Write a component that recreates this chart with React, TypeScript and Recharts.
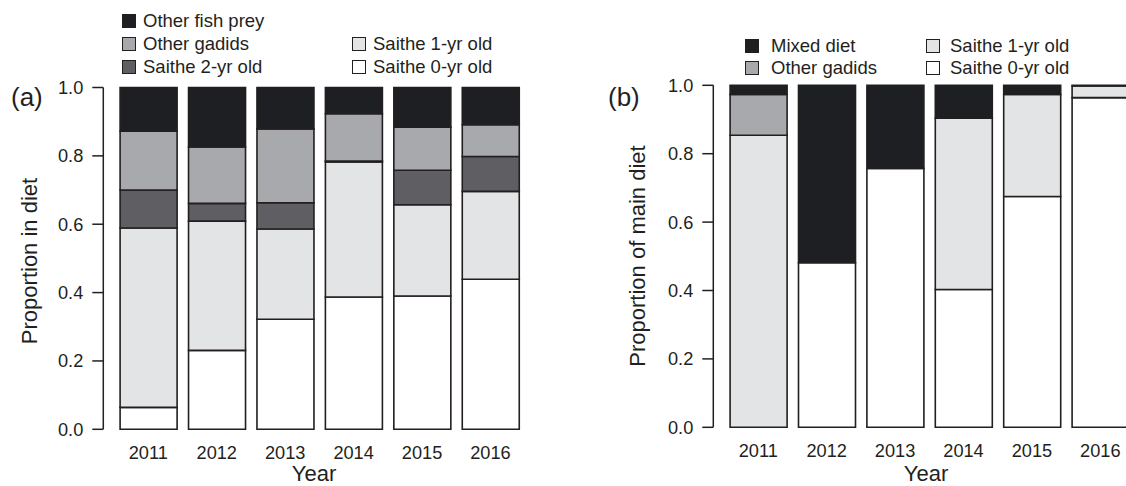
import React from 'react';
import { BarChart, Bar, XAxis, YAxis, Label, Legend } from 'recharts';

// ── Data ────────────────────────────────────────────────────────────────────

const YEARS = ['2011', '2012', '2013', '2014', '2015', '2016'];

// (a) proportion in diet, stacked bottom → top
const A_SAITHE_0 = [0.064, 0.231, 0.322, 0.387, 0.39, 0.439];
const A_SAITHE_1 = [0.525, 0.378, 0.264, 0.395, 0.267, 0.257];
const A_SAITHE_2 = [0.111, 0.052, 0.077, 0.003, 0.101, 0.102];
const A_GADIDS = [0.172, 0.165, 0.216, 0.138, 0.126, 0.093];
const A_FISH = [0.128, 0.174, 0.121, 0.077, 0.116, 0.109];

// (b) proportion of main diet, stacked bottom → top
const B_SAITHE_0 = [0, 0.481, 0.757, 0.403, 0.675, 0.964];
const B_SAITHE_1 = [0.854, 0, 0, 0.501, 0.298, 0.034];
const B_GADIDS = [0.119, 0, 0, 0, 0, 0];
const B_MIXED = [0.027, 0.519, 0.243, 0.096, 0.027, 0.002];

const Y_TICKS = [0, 0.2, 0.4, 0.6, 0.8, 1.0];

// ── Style ───────────────────────────────────────────────────────────────────

const INK = '#231f20';
const FONT = "'Liberation Sans', Arial, Helvetica, sans-serif";
const SHADE = {
  black: '#1e1f22',
  mid: '#a8a9ac',
  dark: '#5f5e63',
  light: '#e3e4e6',
  white: '#ffffff',
};

type Series = { key: string; name: string; values: number[]; fill: string };

const SERIES_A: Series[] = [
  { key: 's0', name: 'Saithe 0-yr old', values: A_SAITHE_0, fill: SHADE.white },
  { key: 's1', name: 'Saithe 1-yr old', values: A_SAITHE_1, fill: SHADE.light },
  { key: 's2', name: 'Saithe 2-yr old', values: A_SAITHE_2, fill: SHADE.dark },
  { key: 'gad', name: 'Other gadids', values: A_GADIDS, fill: SHADE.mid },
  { key: 'fish', name: 'Other fish prey', values: A_FISH, fill: SHADE.black },
];

const SERIES_B: Series[] = [
  { key: 's0', name: 'Saithe 0-yr old', values: B_SAITHE_0, fill: SHADE.white },
  { key: 's1', name: 'Saithe 1-yr old', values: B_SAITHE_1, fill: SHADE.light },
  { key: 'gad', name: 'Other gadids', values: B_GADIDS, fill: SHADE.mid },
  { key: 'mix', name: 'Mixed diet', values: B_MIXED, fill: SHADE.black },
];

function toRows(series: Series[]) {
  return YEARS.map((year, i) => {
    const row: Record<string, any> = { year };
    series.forEach((s) => {
      row[s.key] = s.values[i];
    });
    return row;
  });
}

// ── Legend ──────────────────────────────────────────────────────────────────

// slot = swatch x, text x, row y centre
type LegendSlot = { key: string; x: number; tx: number; y: number };

function BoxLegend({ series, slots }: { series: Series[]; slots: LegendSlot[] }) {
  return (
    <div style={{ position: 'relative', width: '100%', height: '100%', fontFamily: FONT }}>
      {slots.map((slot) => {
        const s = series.find((d) => d.key === slot.key)!;
        return (
          <React.Fragment key={slot.key}>
            <div
              style={{
                position: 'absolute',
                left: slot.x,
                top: slot.y - 7,
                width: 12,
                height: 12,
                background: s.fill,
                border: `1.3px solid ${INK}`,
              }}
            />
            <div
              style={{
                position: 'absolute',
                left: slot.tx,
                top: slot.y - 11,
                height: 22,
                lineHeight: '22px',
                fontSize: 18.5,
                color: INK,
                whiteSpace: 'nowrap',
              }}
            >
              {s.name}
            </div>
          </React.Fragment>
        );
      })}
    </div>
  );
}

// ── Panel ───────────────────────────────────────────────────────────────────

interface PanelProps {
  left: number;
  width: number;
  series: Series[];
  slots: LegendSlot[];
  tag: string;
  tagX: number;
  yTitle: string;
  yTitleX: number;
  yTitleY: number;
  xTitleX: number;
  plotTop: number;
  plotBottom: number;
  axisX: number;
  plotRight: number;
}

const CHART_H = 486;
const Y_AXIS_W = 60;

function Panel(p: PanelProps) {
  const data = toRows(p.series);
  return (
    <div style={{ position: 'absolute', left: p.left, top: 0, width: p.width, height: CHART_H }}>
      <BarChart
        width={p.width}
        height={CHART_H}
        data={data}
        barSize={57}
        margin={{ top: p.plotTop, right: p.width - p.plotRight, bottom: 0, left: p.axisX - Y_AXIS_W }}
      >
        <XAxis
          dataKey="year"
          height={CHART_H - p.plotBottom}
          axisLine={false}
          tickLine={false}
          tickSize={6}
          tickMargin={11}
          padding={{ left: 10.8, right: 0 }}
          tick={{ fill: INK, fontSize: 18.2, fontFamily: FONT }}
        >
          <Label
            content={() => (
              <text x={p.xTitleX} y={481} textAnchor="middle" fontSize={22} fontFamily={FONT} fill={INK}>
                Year
              </text>
            )}
          />
        </XAxis>
        <YAxis
          type="number"
          domain={[0, 1]}
          ticks={Y_TICKS}
          interval={0}
          width={Y_AXIS_W}
          tickFormatter={(v: number) => v.toFixed(1)}
          tickSize={11}
          tickMargin={9}
          axisLine={{ stroke: INK, strokeWidth: 1.5 }}
          tickLine={{ stroke: INK, strokeWidth: 1.5 }}
          tick={{ fill: INK, fontSize: 18.2, fontFamily: FONT }}
        >
          <Label
            content={() => (
              <g>
                <text
                  x={p.yTitleX}
                  y={p.yTitleY}
                  transform={`rotate(-90 ${p.yTitleX} ${p.yTitleY})`}
                  textAnchor="middle"
                  fontSize={22}
                  fontFamily={FONT}
                  fill={INK}
                >
                  {p.yTitle}
                </text>
                <text x={p.tagX} y={106} fontSize={26} fontFamily={FONT} fill={INK}>
                  {p.tag}
                </text>
              </g>
            )}
          />
        </YAxis>
        <Legend
          layout="horizontal"
          verticalAlign="middle"
          align="center"
          wrapperStyle={{ top: 0, left: 0, width: p.width, height: 84 }}
          content={() => <BoxLegend series={p.series} slots={p.slots} />}
        />
        {p.series.map((s) => (
          <Bar
            key={s.key}
            dataKey={s.key}
            name={s.name}
            stackId="diet"
            fill={s.fill}
            stroke={INK}
            strokeWidth={1.6}
            isAnimationActive={false}
          />
        ))}
      </BarChart>
    </div>
  );
}

export default function App() {
  return (
    <div
      style={{
        position: 'absolute',
        left: 0,
        top: 0,
        width: 1126,
        height: 486,
        overflow: 'hidden',
        background: '#fff',
      }}
    >
      <Panel
        left={0}
        width={560}
        series={SERIES_A}
        slots={[
          { key: 'fish', x: 121.5, tx: 143, y: 20.5 },
          { key: 'gad', x: 121.5, tx: 143, y: 43.5 },
          { key: 's2', x: 121.5, tx: 143, y: 66.5 },
          { key: 's1', x: 352, tx: 373, y: 43.5 },
          { key: 's0', x: 352, tx: 373, y: 66.5 },
        ]}
        tag="(a)"
        tagX={11}
        yTitle="Proportion in diet"
        yTitleX={37}
        yTitleY={261}
        xTitleX={314}
        plotTop={87.5}
        plotBottom={429.3}
        axisX={103.3}
        plotRight={524.7}
      />
      <Panel
        left={580}
        width={560}
        series={SERIES_B}
        slots={[
          { key: 'mix', x: 165, tx: 191, y: 46 },
          { key: 'gad', x: 165, tx: 191, y: 68 },
          { key: 's1', x: 345.5, tx: 370, y: 46 },
          { key: 's0', x: 345.5, tx: 370, y: 68 },
        ]}
        tag="(b)"
        tagX={28}
        yTitle="Proportion of main diet"
        yTitleX={65}
        yTitleY={256}
        xTitleX={346}
        plotTop={85.3}
        plotBottom={427.3}
        axisX={133.3}
        plotRight={554.5}
      />
    </div>
  );
}
